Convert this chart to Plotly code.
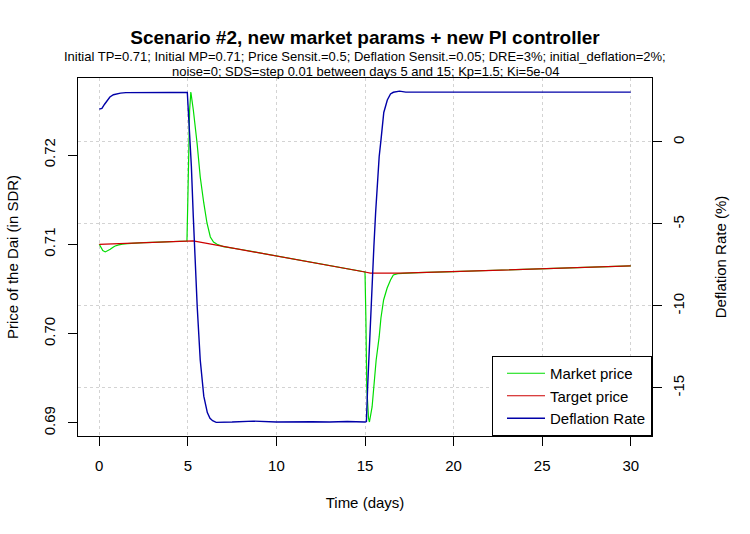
import plotly.graph_objects as go

# ---------------- data ----------------
market_t = [0, 0.1, 0.2, 0.34, 0.5, 0.62, 0.8, 0.9, 1.1, 1.3, 1.6, 2.0, 2.5, 3.0, 3.5, 4.0, 4.5, 4.95,
            5.0, 5.05, 5.1, 5.17, 5.31, 5.52, 5.7, 5.9, 6.08, 6.27, 6.45, 6.65, 7.0, 8, 9, 10, 11, 12, 13, 14,
            15.0, 15.05, 15.1, 15.2, 15.25, 15.4, 15.5, 15.63, 15.8, 15.9, 16.05, 16.25, 16.44, 16.6, 16.85,
            17.1, 17.4, 17.75, 18, 20, 22, 24, 26, 28, 30]
market_price = [0.7100, 0.7096, 0.7093, 0.70915, 0.7093, 0.70944, 0.7097, 0.70981, 0.70993, 0.71003, 0.71008,
                0.71015, 0.71019, 0.71022, 0.71026, 0.71030, 0.71033, 0.71037,
                0.7150, 0.7205, 0.7250, 0.72705, 0.72504, 0.72134, 0.71754, 0.71463, 0.71239, 0.71082, 0.71025,
                0.71000, 0.70975, 0.70942, 0.70906, 0.70870, 0.70834, 0.70798, 0.70762, 0.70726,
                0.70690, 0.7017, 0.6940, 0.6905, 0.69011, 0.69179, 0.69403, 0.69705, 0.69963, 0.70175, 0.70377,
                0.70511, 0.70601, 0.70657, 0.70672,
                0.70676, 0.70674, 0.70678, 0.70682, 0.70695, 0.70709, 0.70722, 0.70734, 0.70746, 0.70758]

target_t = [0, 1, 2, 3, 4, 5, 5.3, 6, 7, 8, 9, 10, 11, 12, 13, 14, 15, 15.3, 16, 17, 18, 20, 22, 24, 26, 28, 30]
target_price = [0.71000, 0.71008, 0.71015, 0.71022, 0.71030, 0.71037, 0.71038, 0.71013, 0.70978, 0.70942,
                0.70906, 0.70870, 0.70834, 0.70798, 0.70762, 0.70726, 0.70690, 0.70678, 0.70676, 0.70678,
                0.70682, 0.70695, 0.70709, 0.70722, 0.70734, 0.70746, 0.70758]

deflation_t = [0, 0.15, 0.3, 0.45, 0.6, 0.8, 1.0, 1.2, 1.5, 2, 3, 4, 4.97,
               5.05, 5.1, 5.2, 5.31, 5.42, 5.53, 5.7, 5.9, 6.1, 6.25, 6.4, 6.6, 7.5, 8.7, 10, 11, 12, 13, 14, 15.0,
               15.08, 15.15, 15.25, 15.37, 15.45, 15.5, 15.6, 15.7, 15.8, 15.9, 16.0, 16.06, 16.26, 16.44, 16.6,
               16.95, 17.3, 20, 25, 30]
deflation_rate = [2.0, 2.05, 2.3, 2.55, 2.74, 2.88, 2.95, 2.98, 3.01, 3.02, 3.02, 3.02, 3.02,
                  1.6, 0.6, -1.5, -4.6, -7.8, -10.06, -13.3, -15.5, -16.5, -16.85, -17.0, -17.1, -17.08, -17.02,
                  -17.08, -17.05, -17.06, -17.08, -17.05, -17.08,
                  -17.05, -14.9, -12.3, -9.2, -7.5, -6.4, -4.3, -2.3, -0.9, 0.1, 1.34, 1.8, 2.56, 2.93, 3.03,
                  3.1, 3.04, 3.04, 3.04, 3.04]

x_ticks = [0, 5, 10, 15, 20, 25, 30]
left_ticks = [0.69, 0.70, 0.71, 0.72]
right_ticks = [0, -5, -10, -15]
right_tick_labels = ["0", "-5", "-10", "-15"]

title_text = "Scenario #2, new market params + new PI controller"
subtitle_1 = "Initial TP=0.71; Initial MP=0.71; Price Sensit.=0.5; Deflation Sensit.=0.05; DRE=3%; initial_deflation=2%;"
subtitle_2 = "noise=0; SDS=step 0.01 between days 5 and 15; Kp=1.5; Ki=5e-04"

FONT = "Liberation Sans, Arial, sans-serif"
GRID = "#d3d3d3"

fig = go.Figure()
fig.add_trace(go.Scatter(x=market_t, y=market_price, mode="lines", name="Market price",
                         line=dict(color="#00dd00", width=1.2), yaxis="y"))
fig.add_trace(go.Scatter(x=target_t, y=target_price, mode="lines", name="Target price",
                         line=dict(color="#cd0000", width=1.2), yaxis="y"))
fig.add_trace(go.Scatter(x=deflation_t, y=deflation_rate, mode="lines", name="Deflation Rate",
                         line=dict(color="#0000a8", width=1.4), yaxis="y2"))

fig.update_layout(
    width=750, height=534,
    margin=dict(l=78, r=98, t=78, b=98),
    paper_bgcolor="white", plot_bgcolor="white",
    font=dict(family=FONT, size=15, color="black"),
    title=dict(text="<b>" + title_text + "</b>", x=(78 + 287) / 750, xanchor="center",
               y=1 - 37 / 534, yanchor="middle", font=dict(size=19, color="black", family=FONT)),
    xaxis=dict(range=[-1.2, 31.2], tickvals=x_ticks, ticks="outside", ticklen=9, tickcolor="black",
               ticklabelstandoff=7,
               showline=True, linecolor="black", linewidth=1, mirror=True,
               showgrid=True, gridcolor=GRID, griddash="3px,3px", gridwidth=1, zeroline=False,
               title=dict(text="Time (days)", standoff=24, font=dict(size=15))),
    yaxis=dict(range=[0.68854, 0.72862], tickvals=left_ticks, tickformat=".2f", tickangle=-90,
               ticks="outside", ticklen=9, tickcolor="black", ticklabelstandoff=7,
               showline=True, linecolor="black", linewidth=1, mirror=True,
               showgrid=False, zeroline=False,
               title=dict(text="Price of the Dai (in SDR)", standoff=18, font=dict(size=15))),
    yaxis2=dict(range=[-17.93, 3.90], overlaying="y", side="right", tickvals=right_ticks,
                ticktext=right_tick_labels, tickangle=-90,
                ticks="outside", ticklen=9, tickcolor="black", ticklabelstandoff=4,
                showline=True, linecolor="black", linewidth=1,
                showgrid=True, gridcolor=GRID, griddash="3px,3px", gridwidth=1, zeroline=False,
                title=dict(text="Deflation Rate (%)", standoff=29, font=dict(size=15))),
    legend=dict(x=1, y=0, xanchor="right", yanchor="bottom", bgcolor="white",
                bordercolor="black", borderwidth=1, font=dict(size=15, color="black"),
                indentation=9, itemwidth=38, tracegroupgap=0),
    showlegend=True,
)

fig.add_annotation(text=subtitle_1, xref="paper", yref="paper", x=0.5, y=1 + (78 - 56.5) / 358,
                   xanchor="center", yanchor="middle", showarrow=False, font=dict(size=13, family=FONT))
fig.add_annotation(text=subtitle_2, xref="paper", yref="paper", x=0.5, y=1 + (78 - 71.5) / 358,
                   xanchor="center", yanchor="middle", showarrow=False, font=dict(size=13, family=FONT))

fig.write_html("out.html")
